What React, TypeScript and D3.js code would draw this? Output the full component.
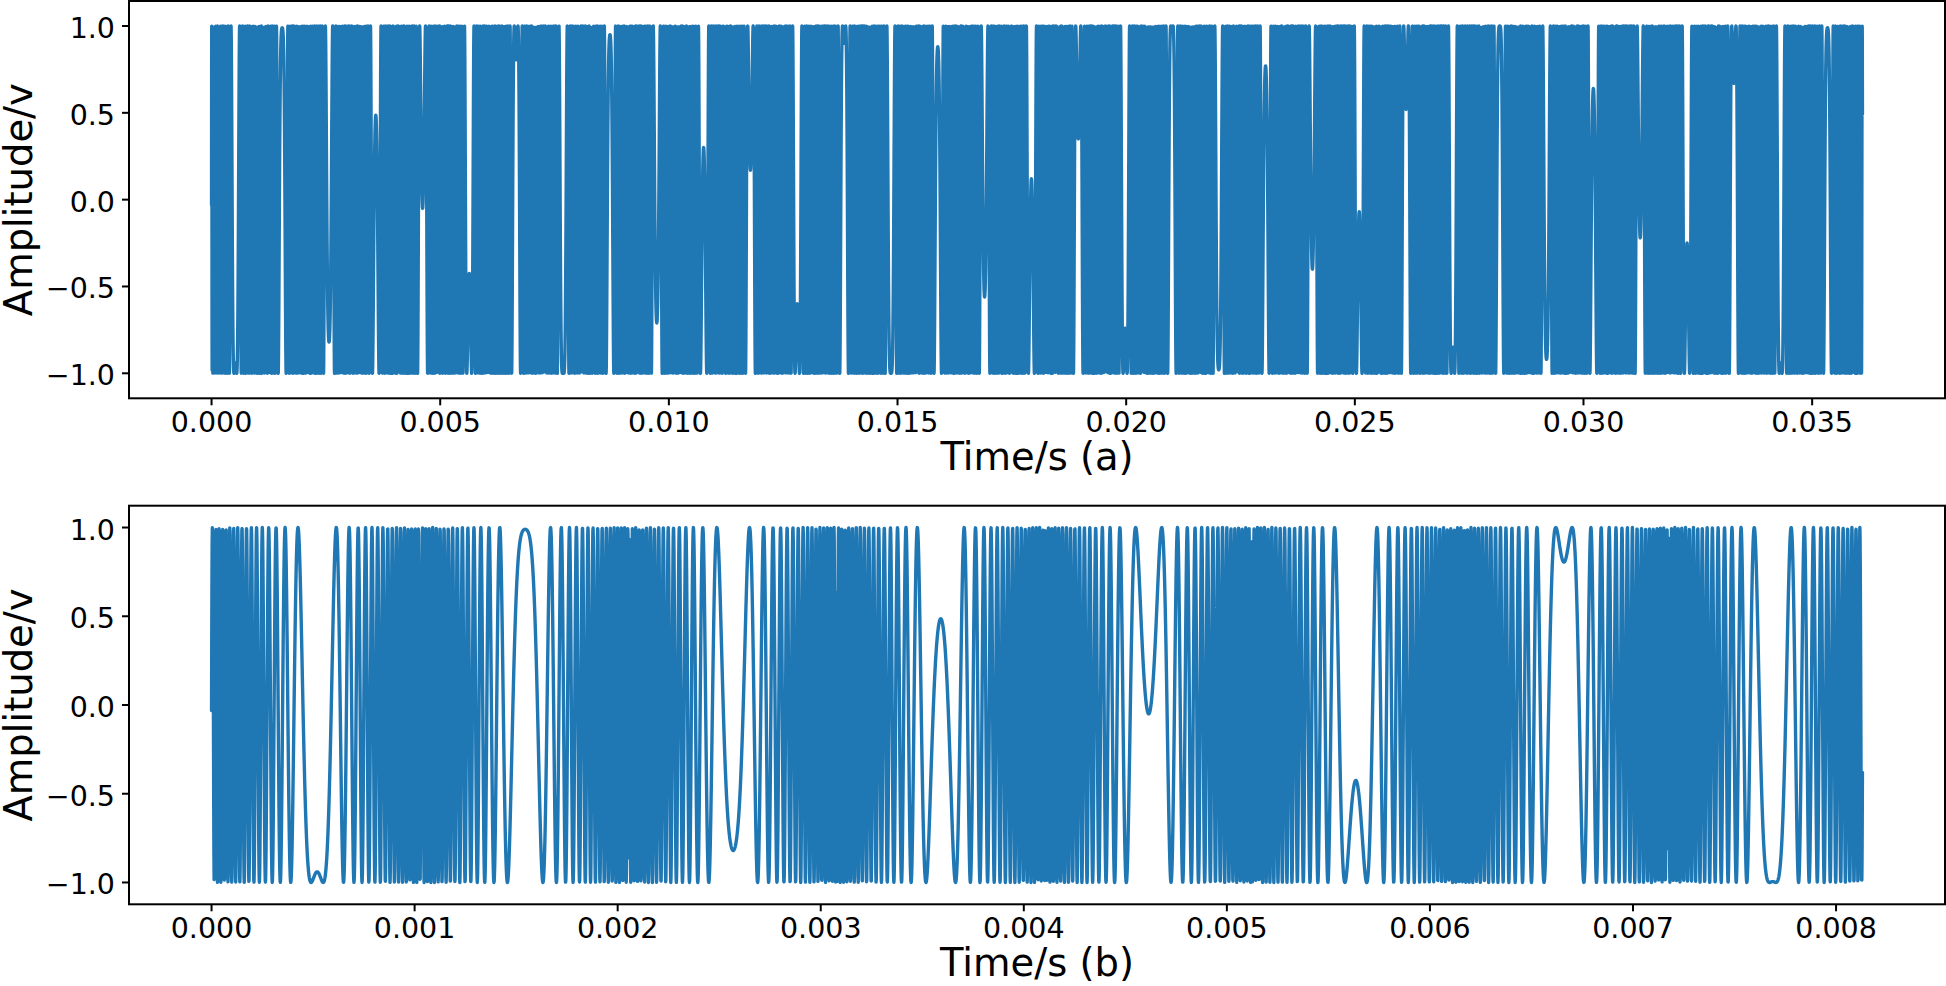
import React from "react";
import * as d3 from "d3";

// turning points of the slow wiggle, in ms
const TURN_TIMES = [
  -0.504, 0.52, 1.5445, 2.569, 3.591, 4.615, 5.635, 6.66, 7.688, 8.712, 9.736,
  10.76, 11.784, 12.808, 13.832, 14.856, 15.88, 16.904, 17.928, 18.952, 19.976,
  21.0, 22.024, 23.048, 24.072, 25.096, 26.12, 27.144, 28.168, 29.192, 30.216,
  31.24, 32.264, 33.288, 34.312, 35.336, 36.36,
];
// value of the wave at each turning point
const TURN_VALUES = [
  0.68, -0.94, 0.99, -0.82, 0.486, -0.05, -0.425, 0.805, -0.995, 0.95, -0.71,
  0.3, 0.17, -0.6, 0.9, -1.0, 0.88, -0.56, 0.12, 0.35, -0.74,
  0.97, -0.98, 0.77, -0.4, -0.07, 0.52, -0.85, 1.0, -0.92, 0.64,
  -0.22, -0.25, 0.67, -0.94, 0.99, -0.83,
];
// local peak or local trough at that turning point
const TURN_KINDS = [
  "trough", "peak", "peak", "trough", "peak", "trough", "peak", "trough", "peak", "peak", "trough",
  "peak", "trough", "peak", "trough", "trough", "peak", "trough", "peak", "trough", "peak",
  "trough", "trough", "peak", "trough", "peak", "trough", "peak", "trough", "trough", "peak",
  "trough", "peak", "trough", "peak", "peak", "trough",
];

const SAMPLE_RATE = 1024; // samples per ms
const SWEEP_RATE = 125; // kHz per ms
const SPAN_A = 36.1; // ms
const SPAN_B = 8.13; // ms

const XTICKS_A = [0, 0.005, 0.01, 0.015, 0.02, 0.025, 0.03, 0.035];
const XTICKS_B = [0, 0.001, 0.002, 0.003, 0.004, 0.005, 0.006, 0.007, 0.008];
const YTICKS = [-1, -0.5, 0, 0.5, 1];

const BLUE = "#1f77b4";
const FONT = "DejaVu Sans";

function sampleSignal(span: number) {
  const turnPhase = TURN_VALUES.map((v, i) =>
    TURN_KINDS[i] === "peak" ? Math.acos(v) : -Math.acos(v)
  );
  const n = Math.floor(span * SAMPLE_RATE) + 1;
  const pts: [number, number][] = [];
  for (let m = 0; m < n; m++) {
    const t = m / SAMPLE_RATE;
    const k = d3.bisectCenter(TURN_TIMES, t);
    const tau = t - TURN_TIMES[k];
    pts.push([t, Math.cos(turnPhase[k] + Math.PI * SWEEP_RATE * tau * tau)]);
  }
  return pts;
}

const fmtY = (v: number) => (v < 0 ? "\u2212" : "") + Math.abs(v).toFixed(1);

function Panel({ top, bottom, span, yMax, ticks, label }: any) {
  const left = 129;
  const right = 1945;
  const x = d3.scaleLinear().domain([-0.05 * span, 1.05 * span]).range([left, right]);
  const y = d3.scaleLinear().domain([-yMax, yMax]).range([bottom, top]);
  const data = sampleSignal(span);
  const line = d3
    .line<[number, number]>()
    .x((d) => x(d[0]))
    .y((d) => y(d[1]));
  const mid = (top + bottom) / 2;
  return (
    <g fontFamily={FONT}>
      <path
        d={line(data) || ""}
        fill="none"
        stroke={BLUE}
        strokeWidth={3.4}
        strokeLinejoin="round"
        strokeLinecap="round"
      />
      <rect
        x={left}
        y={top}
        width={right - left}
        height={bottom - top}
        fill="none"
        stroke="#000"
        strokeWidth={2}
      />
      {YTICKS.map((v) => (
        <g key={v}>
          <line x1={left - 7} x2={left} y1={y(v)} y2={y(v)} stroke="#000" strokeWidth={2} />
          <text x={115} y={y(v) + 12} textAnchor="end" fontSize={28.5}>
            {fmtY(v)}
          </text>
        </g>
      ))}
      {ticks.map((v: number) => (
        <g key={v}>
          <line x1={x(v * 1000)} x2={x(v * 1000)} y1={bottom} y2={bottom + 7} stroke="#000" strokeWidth={2} />
          <text x={x(v * 1000)} y={bottom + 34} textAnchor="middle" fontSize={28.5}>
            {v.toFixed(3)}
          </text>
        </g>
      ))}
      <text x={(left + right) / 2} y={bottom + 72} textAnchor="middle" fontSize={38.5}>
        {label}
      </text>
      <text transform={`translate(32,${mid}) rotate(-90)`} textAnchor="middle" fontSize={38.5}>
        Amplitude/v
      </text>
    </g>
  );
}

export default function App() {
  return (
    <svg
      width={1946}
      height={986}
      style={{ position: "absolute", left: 0, top: 0, background: "#fff" }}
    >
      <Panel top={1} bottom={398.3} span={SPAN_A} yMax={1.144} ticks={XTICKS_A} label="Time/s (a)" />
      <Panel top={505.7} bottom={904.3} span={SPAN_B} yMax={1.123} ticks={XTICKS_B} label="Time/s (b)" />
    </svg>
  );
}
